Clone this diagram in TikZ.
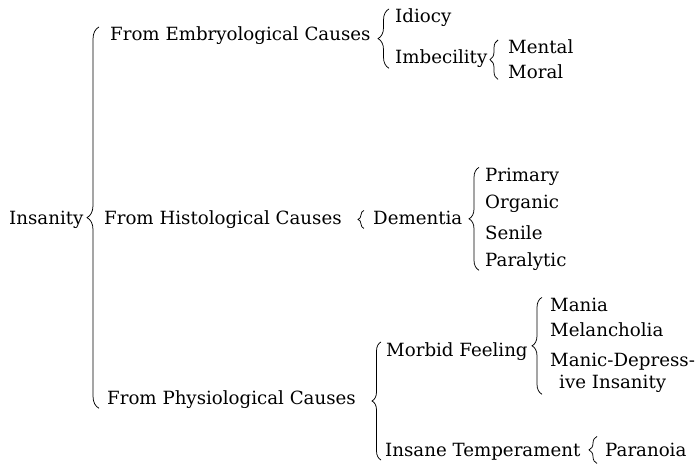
\documentclass[tikz,border=0pt]{standalone}
\usepackage{fontspec}
\setmainfont{DejaVu Serif}
\usetikzlibrary{decorations.pathreplacing}
\tikzset{
	txt/.style={anchor=base west, inner sep=0pt, font=\fontsize{18.2}{21}\selectfont},
	brc/.style={decorate, decoration={brace, amplitude=#1}, line width=0.75pt},
	brc/.default=10pt
}
\begin{document}
\begin{tikzpicture}[x=1pt, y=1pt]
	\useasboundingbox (0,0) rectangle (700,-465);
	\node[txt] (ins) at (9,-224) {Insanity};
	\node[txt] (embr) at (110,-41) {From Embryological Causes};
	\node[txt] (hist) at (104,-224) {From Histological Causes};
	\node[txt] (phys) at (107,-404) {From Physiological Causes};
	\node[txt] (idio) at (395,-23) {Idiocy};
	\node[txt] (imbe) at (395,-64) {Imbecility};
	\node[txt] (ment) at (508,-54) {Mental};
	\node[txt] (mora) at (508,-79) {Moral};
	\node[txt] (deme) at (373,-224) {Dementia};
	\node[txt] (prim) at (485,-181) {Primary};
	\node[txt] (orga) at (485,-208) {Organic};
	\node[txt] (seni) at (485,-239) {Senile};
	\node[txt] (para) at (485,-266) {Paralytic};
	\node[txt] (morb) at (386,-356) {Morbid Feeling};
	\node[txt] (temp) at (385,-456) {Insane Temperament};
	\node[txt] (mani) at (550,-311) {Mania};
	\node[txt] (mela) at (550,-336) {Melancholia};
	\node[txt] (mdep) at (550,-366) {Manic-Depress-};
	\node[txt] (mdin) at (559,-388) {ive Insanity};
	\node[txt] (pano) at (605,-456) {Paranoia};
	% braces
	\draw[brc=12pt] ([xshift=-11pt]embr.west |- phys.south) -- ([xshift=-11pt]embr.west |- embr.north);
	\draw[brc=11pt] ([xshift=-6pt]idio.west |- imbe.south) -- ([xshift=-6pt]idio.west |- idio.north);
	\draw[brc=8pt] ([xshift=-10pt]mora.south west) -- ([xshift=-10pt]ment.north west);
	\draw[brc=6pt] ([xshift=-9pt,yshift=-4pt]deme.south west) -- ([xshift=-9pt]deme.north west);
	\draw[brc=10pt] ([xshift=-6pt]para.south west) -- ([xshift=-6pt]prim.north west);
	\draw[brc=9pt] ([xshift=-4pt]temp.south west) -- ([xshift=-4pt]temp.west |- morb.north);
	\draw[brc=10pt] ([xshift=-8pt,yshift=-2pt]mani.west |- mdin.south) -- ([xshift=-8pt]mani.north west);
	\draw[brc=8pt] ([xshift=-8pt,yshift=-7pt]pano.south west) -- ([xshift=-8pt,yshift=6pt]pano.north west);
\end{tikzpicture}
\end{document}
